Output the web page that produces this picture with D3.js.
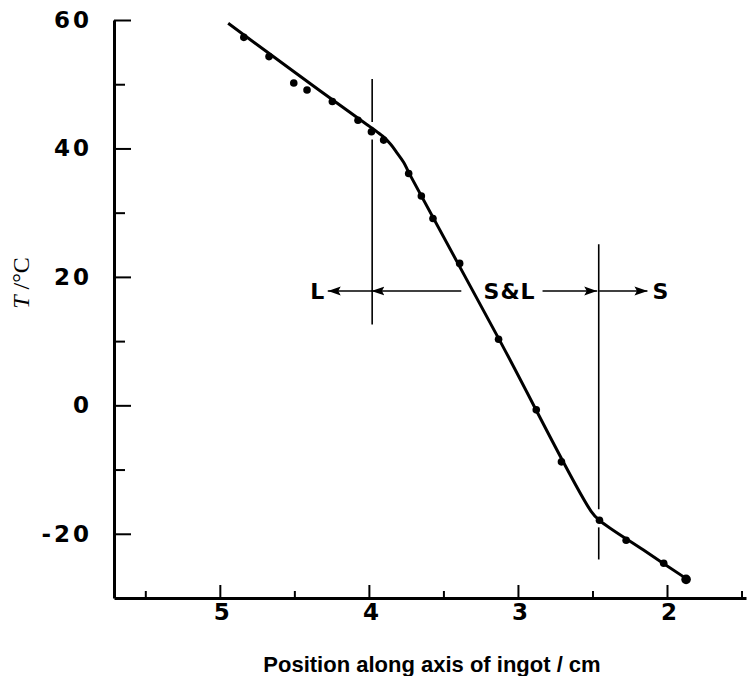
<!DOCTYPE html>
<html>
<head>
<meta charset="utf-8">
<script src="https://cdn.jsdelivr.net/npm/d3@7"></script>
<style>
  body { margin: 0; background: #fff; }
  .tick text { font-family: "DejaVu Sans", sans-serif; font-weight: bold; }
</style>
</head>
<body>
<script>
// measured points: position along ingot (cm) and temperature (C)
var posData  = [4.839, 4.670, 4.504, 4.415, 4.245, 4.073, 3.983, 3.901, 3.733, 3.648,
                3.570, 3.391, 3.130, 2.877, 2.708, 2.453, 2.274, 2.022, 1.872];
var tempData = [57.3, 54.3, 50.2, 49.1, 47.3, 44.4, 42.6, 41.3, 36.1, 32.6,
                29.1, 22.1, 10.3, -0.7, -8.8, -17.9, -21.0, -24.6, -27.1];

// hand drawn fit: straight runs joined by a rounded bend near 4 cm and a kink near 2.45 cm
var fitPos  = [4.944, 4.500, 4.042, 3.975, 3.907, 3.854, 3.814, 3.767, 3.727, 3.120, 2.509, 2.453, 2.160, 1.863];
var fitTemp = [59.5, 51.9, 44.2, 43.1, 41.9, 40.65, 39.4, 37.85, 36.0, 10.0, -16.5, -17.9, -22.5, -27.1];

var xMajor = [5, 4, 3, 2];
var xMinor = [5.5, 4.5, 3.5, 2.5, 1.5];
var yMajor = [60, 40, 20, 0, -20];
var yMinor = [50, 30, 10, -10];

// phase boundaries (liquidus / solidus) drawn as broken vertical lines
var boundaryPos  = [3.978, 3.978, 2.458, 2.458];
var boundaryTop  = [50.8, 41.4, 25.1, -19.0];
var boundaryBot  = [44.1, 12.6, -16.2, -24.0];

// arrows and region labels
var arrowLevel = 17.8;
var arrowFrom = [3.380, 3.975, 2.835, 2.455];
var arrowTo   = [3.983, 4.276, 2.468, 2.131];
var regionText = ["L", "S&L", "S"];
var regionPos  = [4.343, 3.056, 2.040];

var window_w = 747, window_h = 676;

var xScale = d3.scaleLinear().domain([5.71, 1.47]).range([114, 746]);
var yScale = d3.scaleLinear().domain([-30, 60]).range([598, 20]);

var svg = d3.select("body").append("svg")
    .attr("width", window_w)
    .attr("height", window_h);

svg.append("defs").append("marker")
    .attr("id", "head")
    .attr("viewBox", "0 0 13 10")
    .attr("refX", 13).attr("refY", 5)
    .attr("markerWidth", 13).attr("markerHeight", 10)
    .attr("markerUnits", "userSpaceOnUse")
    .attr("orient", "auto")
  .append("path")
    .attr("d", "M0,0.5L13,5L0,9.5L2.5,5Z")
    .attr("fill", "#000");

// y axis
var yAxis = svg.append("g")
    .attr("transform", "translate(" + xScale(5.71) + ",0)")
    .call(d3.axisLeft(yScale).tickValues(yMajor).tickSize(-17).tickSizeOuter(0).tickPadding(25)
          .tickFormat(d => String(d)));
svg.append("g")
    .attr("transform", "translate(" + xScale(5.71) + ",0)")
    .call(d3.axisLeft(yScale).tickValues(yMinor).tickSize(-11).tickSizeOuter(0).tickFormat(""))
    .select(".domain").remove();

// x axis
var xAxis = svg.append("g")
    .attr("transform", "translate(0," + yScale(-30) + ")")
    .call(d3.axisBottom(xScale).tickValues(xMajor).tickSize(-13).tickSizeOuter(0).tickPadding(6)
          .tickFormat(d => String(d)));
svg.append("g")
    .attr("transform", "translate(0," + yScale(-30) + ")")
    .call(d3.axisBottom(xScale).tickValues(xMinor).tickSize(-7).tickSizeOuter(0).tickFormat(""))
    .select(".domain").remove();

svg.selectAll(".domain").attr("stroke", "#000").attr("stroke-width", 3);
svg.selectAll(".tick line").attr("stroke", "#000").attr("stroke-width", 2);
svg.selectAll(".tick text")
    .attr("fill", "#000")
    .style("font-size", "23px")
    .style("letter-spacing", "3px");
yAxis.selectAll(".tick text").attr("dx", "3px");
xAxis.selectAll(".tick text").attr("dx", "3px");

// boundary lines
svg.selectAll(".boundary").data(boundaryPos)
    .enter().append("line")
    .attr("class", "boundary")
    .attr("x1", d => xScale(d)).attr("x2", d => xScale(d))
    .attr("y1", (d, i) => yScale(boundaryTop[i]))
    .attr("y2", (d, i) => yScale(boundaryBot[i]))
    .attr("stroke", "#000")
    .attr("stroke-width", 1.6);

// arrows
svg.selectAll(".arrow").data(arrowFrom)
    .enter().append("line")
    .attr("class", "arrow")
    .attr("x1", d => xScale(d))
    .attr("x2", (d, i) => xScale(arrowTo[i]))
    .attr("y1", yScale(arrowLevel)).attr("y2", yScale(arrowLevel))
    .attr("stroke", "#000")
    .attr("stroke-width", 1.6)
    .attr("marker-end", "url(#head)");

svg.selectAll(".region").data(regionText)
    .enter().append("text")
    .attr("class", "region")
    .attr("x", (d, i) => xScale(regionPos[i]))
    .attr("y", yScale(arrowLevel))
    .attr("dy", "0.36em")
    .attr("text-anchor", "middle")
    .attr("fill", "#000")
    .style("font-family", "'DejaVu Sans', sans-serif")
    .style("font-weight", "bold")
    .style("font-size", "22px")
    .style("letter-spacing", "1px")
    .text(d => d);

// fitted curve
var fit = fitPos.map((p, i) => [p, fitTemp[i]]);
var line = d3.line()
    .x(d => xScale(d[0]))
    .y(d => yScale(d[1]))
    .curve(d3.curveCatmullRom.alpha(0.5));

svg.append("path")
    .datum(fit)
    .attr("d", line)
    .attr("fill", "none")
    .attr("stroke", "#000")
    .attr("stroke-width", 3)
    .attr("stroke-linejoin", "round");

// measured points
svg.selectAll(".pt").data(posData)
    .enter().append("circle")
    .attr("class", "pt")
    .attr("cx", d => xScale(d))
    .attr("cy", (d, i) => yScale(tempData[i]))
    .attr("r", (d, i) => i == posData.length - 1 ? 4.8 : 3.8)
    .attr("fill", "#000");

// axis titles
svg.append("text")
    .attr("x", 432).attr("y", 672)
    .attr("text-anchor", "middle")
    .attr("fill", "#000")
    .style("font-family", "'Liberation Sans', Arial, sans-serif")
    .style("font-weight", "bold")
    .style("font-size", "22px")
    .text("Position along axis of ingot / cm");

var yTitle = svg.append("text")
    .attr("transform", "translate(29,283) rotate(-90)")
    .attr("text-anchor", "middle")
    .attr("fill", "#000")
    .style("font-family", "'Liberation Serif', 'Times New Roman', serif")
    .style("font-size", "24px");
yTitle.append("tspan").style("font-style", "italic").text("T");
yTitle.append("tspan").text(" /°C");
</script>
</body>
</html>
